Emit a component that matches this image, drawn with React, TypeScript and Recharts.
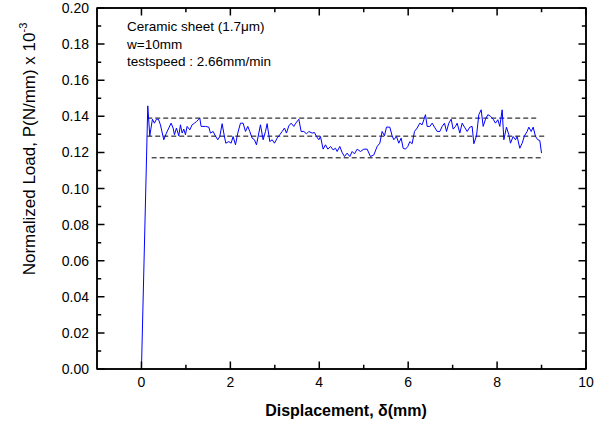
import React from "react";
import { LineChart, Line, XAxis, YAxis, ReferenceLine } from "recharts";

// Displacement (mm)
const displacement = [
  0, 0.142, 0.187, 0.247, 0.292, 0.337, 0.382, 0.427, 0.502, 0.562, 0.615, 0.667, 0.712, 0.742,
  0.787, 0.84, 0.877, 0.915, 0.952, 0.99, 1.027, 1.087, 1.14, 1.192, 1.237, 1.29, 1.312, 1.342,
  1.44, 1.515, 1.552, 1.612, 1.665, 1.717, 1.762, 1.815, 1.852, 1.897, 1.965, 2.017, 2.062, 2.115,
  2.167, 2.227, 2.287, 2.34, 2.392, 2.437, 2.49, 2.542, 2.587, 2.64, 2.677, 2.737, 2.79, 2.827,
  2.887, 2.94, 2.992, 3.052, 3.112, 3.165, 3.217, 3.262, 3.315, 3.367, 3.427, 3.472, 3.54, 3.592,
  3.652, 3.712, 3.765, 3.84, 3.892, 3.937, 3.99, 4.027, 4.087, 4.14, 4.192, 4.252, 4.312, 4.365,
  4.402, 4.462, 4.515, 4.567, 4.627, 4.687, 4.74, 4.792, 4.852, 4.927, 5.002, 5.077, 5.152, 5.227,
  5.302, 5.362, 5.414, 5.467, 5.512, 5.587, 5.639, 5.677, 5.737, 5.789, 5.842, 5.887, 5.939, 5.992,
  6.037, 6.089, 6.142, 6.202, 6.262, 6.314, 6.352, 6.389, 6.427, 6.487, 6.539, 6.592, 6.652, 6.712,
  6.764, 6.817, 6.862, 6.914, 6.967, 7.012, 7.064, 7.102, 7.162, 7.214, 7.267, 7.327, 7.387, 7.439,
  7.477, 7.537, 7.589, 7.642, 7.687, 7.739, 7.792, 7.852, 7.912, 7.964, 8.017, 8.061, 8.114, 8.152,
  8.211, 8.264, 8.301, 8.361, 8.414, 8.451, 8.511, 8.564, 8.616, 8.676, 8.714, 8.767, 8.812, 8.864,
  8.916, 8.961, 9.0,
];

// Normalized load, P (N/mm) x 10^-3
const load = [
  0, 0.1458, 0.1292, 0.1384, 0.1362, 0.1384, 0.1384, 0.1353, 0.127, 0.1307, 0.1335, 0.1362, 0.1335,
  0.1298, 0.1335, 0.1292, 0.1353, 0.1307, 0.1329, 0.1298, 0.1344, 0.1325, 0.1353, 0.1362, 0.1371,
  0.1384, 0.139, 0.1344, 0.1344, 0.134, 0.1307, 0.1316, 0.129, 0.127, 0.1288, 0.1359, 0.1307,
  0.1251, 0.126, 0.1251, 0.1288, 0.1242, 0.1307, 0.1362, 0.1362, 0.1316, 0.1344, 0.1316, 0.1279,
  0.127, 0.1242, 0.1307, 0.1353, 0.127, 0.1316, 0.1359, 0.126, 0.127, 0.1251, 0.1279, 0.1298,
  0.1316, 0.1335, 0.1307, 0.1347, 0.1362, 0.1344, 0.1362, 0.1384, 0.1316, 0.1316, 0.1303, 0.1316,
  0.1307, 0.131, 0.1288, 0.127, 0.1288, 0.1218, 0.1242, 0.1218, 0.1233, 0.1214, 0.1223, 0.1205,
  0.1233, 0.1199, 0.1177, 0.1196, 0.1177, 0.1205, 0.1192, 0.1218, 0.1205, 0.1218, 0.1218, 0.1177,
  0.1186, 0.1233, 0.1251, 0.1316, 0.1292, 0.134, 0.134, 0.1292, 0.127, 0.1288, 0.1251, 0.1279,
  0.1223, 0.1218, 0.1233, 0.126, 0.1248, 0.1316, 0.1335, 0.1362, 0.1353, 0.1381, 0.1409, 0.1344,
  0.1344, 0.1362, 0.134, 0.1316, 0.1316, 0.1344, 0.1362, 0.1316, 0.1362, 0.1384, 0.1329, 0.1344,
  0.1362, 0.1307, 0.1362, 0.134, 0.1316, 0.134, 0.1344, 0.1248, 0.1292, 0.1409, 0.1436, 0.1344,
  0.1384, 0.1409, 0.14, 0.1384, 0.1362, 0.1381, 0.1344, 0.1436, 0.127, 0.134, 0.1298, 0.1251,
  0.1288, 0.127, 0.1288, 0.1223, 0.1251, 0.1292, 0.1316, 0.134, 0.1316, 0.134, 0.1288, 0.127,
  0.1266, 0.1196,
];

// Dashed guide levels and their extents
const guideLevels = [0.139, 0.129, 0.117];
const guideStart = [0.13, 0.13, 0.23];
const guideEnd = [8.9, 9.08, 9.05];

const xDomain = [-1, 10];
const yDomain = [0, 0.2];
const xTicks = [0, 1, 2, 3, 4, 5, 6, 7, 8, 9, 10];
const yTicks = [
  0, 0.01, 0.02, 0.03, 0.04, 0.05, 0.06, 0.07, 0.08, 0.09, 0.1, 0.11, 0.12, 0.13, 0.14, 0.15,
  0.16, 0.17, 0.18, 0.19, 0.2,
];

const annotation = ["Ceramic sheet (1.7\u03bcm)", "w=10mm", "testspeed : 2.66mm/min"];

const data = displacement.map((x, i) => ({ x, y: load[i] }));

const FONT = "'Liberation Sans', Arial, Helvetica, sans-serif";
const MAJOR = 7.5;
const MINOR = 4.2;
const SW = 1.5;

// layout of the plot frame
const W = 603;
const H = 425;
const M_TOP = 8;
const M_RIGHT = 17;
const Y_AXIS_W = 97;
const X_AXIS_H = 56;
const PLOT_LEFT = Y_AXIS_W;
const PLOT_TOP = M_TOP;
const PLOT_RIGHT = W - M_RIGHT;
const PLOT_BOTTOM = H - X_AXIS_H;

const isMajorX = (v: number) => Math.round(v) % 2 === 0;
const isMajorY = (v: number) => Math.round(v * 100) % 2 === 0;

const BottomTick = (props: any) => {
  const { x, y, payload } = props;
  const v = payload.value as number;
  const major = isMajorX(v);
  const len = major ? MAJOR : MINOR;
  return (
    <g>
      <path d={`M${x},${y}V${y - len}M${x},${PLOT_TOP}V${PLOT_TOP + len}`} stroke="#000" strokeWidth={SW} fill="none" />
      {major && (
        <text x={x} y={y + 18} textAnchor="middle" fontSize={14} fontFamily={FONT} fill="#000">
          {v}
        </text>
      )}
    </g>
  );
};

const LeftTick = (props: any) => {
  const { x, y, payload } = props;
  const v = payload.value as number;
  const major = isMajorY(v);
  const len = major ? MAJOR : MINOR;
  return (
    <g>
      <path d={`M${x},${y}H${x + len}M${PLOT_RIGHT},${y}H${PLOT_RIGHT - len}`} stroke="#000" strokeWidth={SW} fill="none" />
      {major && (
        <text x={x - 8} y={y + 5} textAnchor="end" fontSize={14} fontFamily={FONT} fill="#000">
          {v.toFixed(2)}
        </text>
      )}
    </g>
  );
};

const YTitle = () => (
  <text
    x={35}
    y={149}
    transform="rotate(-90, 35, 149)"
    textAnchor="middle"
    fontSize={17}
    fontFamily={FONT}
    fill="#000"
  >
    Normalized Load, P(N/mm) x 10
    <tspan fontSize={11} dy={-8}>
      -3
    </tspan>
  </text>
);

const XTitle = () => (
  <text x={346} y={416} textAnchor="middle" fontSize={16} fontWeight="bold" fontFamily={FONT} fill="#000">
    Displacement, {"\u03b4"}(mm)
  </text>
);

// plot frame outline (box around the plotting area)
const Frame = () => (
  <rect
    x={PLOT_LEFT}
    y={PLOT_TOP}
    width={PLOT_RIGHT - PLOT_LEFT}
    height={PLOT_BOTTOM - PLOT_TOP}
    fill="none"
    stroke="#000"
    strokeWidth={SW}
  />
);

const Annotation = () => (
  <g>
    {annotation.map((t, i) => (
      <text key={i} x={127} y={31 + i * 17.6} fontSize={13.5} fontFamily={FONT} fill="#000">
        {t}
      </text>
    ))}
  </g>
);

export default function App() {
  return (
    <div style={{ position: "absolute", left: 0, top: 0, background: "#fff" }}>
      <LineChart
        width={W}
        height={H}
        data={data}
        margin={{ top: M_TOP, right: M_RIGHT, bottom: 0, left: 0 }}
      >
        <XAxis
          xAxisId="b"
          dataKey="x"
          type="number"
          domain={xDomain}
          ticks={xTicks}
          interval={0}
          height={X_AXIS_H}
          tickSize={0}
          tickMargin={0}
          tickLine={false}
          axisLine={{ stroke: "#000", strokeWidth: SW }}
          tick={<BottomTick />}
          label={<XTitle />}
        />
        <YAxis
          yAxisId="l"
          type="number"
          domain={yDomain}
          ticks={yTicks}
          interval={0}
          width={Y_AXIS_W}
          tickSize={0}
          tickMargin={0}
          tickLine={false}
          axisLine={{ stroke: "#000", strokeWidth: SW }}
          tick={<LeftTick />}
          label={<YTitle />}
        />
        <ReferenceLine xAxisId="b" yAxisId="l" y={yDomain[1]} stroke="#000" strokeWidth={SW} ifOverflow="visible" />
        <ReferenceLine xAxisId="b" yAxisId="l" x={xDomain[1]} stroke="#000" strokeWidth={SW} ifOverflow="visible" />
        {guideLevels.map((lv, i) => (
          <ReferenceLine
            key={i}
            xAxisId="b"
            yAxisId="l"
            segment={[
              { x: guideStart[i], y: lv },
              { x: guideEnd[i], y: lv },
            ]}
            stroke="#000"
            strokeWidth={1}
            strokeDasharray="5 3"
          />
        ))}
        <Line
          xAxisId="b"
          yAxisId="l"
          dataKey="y"
          type="linear"
          stroke="#0000ff"
          strokeWidth={1}
          dot={false}
          activeDot={false}
          isAnimationActive={false}
        />
        <Frame />
        <Annotation />
      </LineChart>
    </div>
  );
}
